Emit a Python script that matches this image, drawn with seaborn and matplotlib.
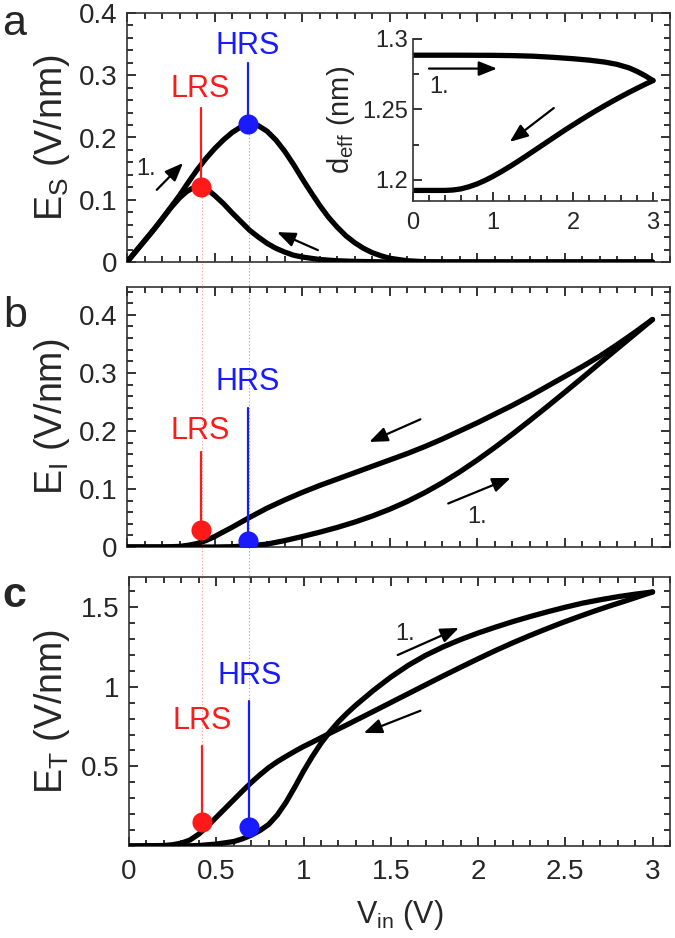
import numpy as np
import pandas as pd
import matplotlib
matplotlib.use("Agg")
import matplotlib.pyplot as plt
import matplotlib.transforms as mtransforms
from matplotlib.ticker import MultipleLocator, FixedLocator, FuncFormatter
import seaborn as sns

# ---------------- data ----------------
# Panel a: E_S (forward sweep "1." and return sweep)
es_fwd_v = [0, 0.05, 0.1, 0.15, 0.2, 0.25, 0.3, 0.35, 0.4, 0.45, 0.5, 0.55, 0.6, 0.65, 0.7,
            0.75, 0.8, 0.85, 0.9, 0.95, 1.0, 1.05, 1.1, 1.15, 1.2, 1.25, 1.3, 1.35, 1.4,
            1.45, 1.5, 1.6, 1.7, 1.8, 3.0]
es_fwd_e = [0, 0.017, 0.034, 0.051, 0.069, 0.088, 0.107, 0.128, 0.148, 0.166, 0.182, 0.196,
            0.208, 0.217, 0.222, 0.219, 0.210, 0.196, 0.178, 0.157, 0.134, 0.112, 0.091,
            0.072, 0.056, 0.042, 0.031, 0.022, 0.015, 0.010, 0.006, 0.002, 0.0005, 0, 0]
es_ret_v = [3.0, 2.0, 1.5, 1.3, 1.2, 1.1, 1.0, 0.95, 0.9, 0.85, 0.8, 0.75, 0.7, 0.65, 0.6,
            0.55, 0.5, 0.47, 0.44, 0.42, 0.40, 0.37, 0.34, 0.3, 0.25, 0.2, 0.15, 0.1, 0.05, 0]
es_ret_e = [0, 0, 0, 0.001, 0.002, 0.004, 0.008, 0.011, 0.016, 0.022, 0.030, 0.040, 0.051,
            0.065, 0.079, 0.094, 0.107, 0.114, 0.119, 0.121, 0.121, 0.118, 0.113, 0.103,
            0.087, 0.069, 0.051, 0.034, 0.017, 0]

# Inset: d_eff
d_fwd_v = [0, 0.5, 1.0, 1.25, 1.5, 1.75, 2.0, 2.2, 2.4, 2.55, 2.7, 2.8, 2.9, 2.95, 3.0]
d_fwd_d = [1.2885, 1.2885, 1.2884, 1.2882, 1.2878, 1.2870, 1.2860, 1.2850, 1.2836, 1.2820,
           1.2795, 1.2770, 1.2740, 1.2722, 1.2705]
d_ret_v = [3.0, 2.9, 2.8, 2.7, 2.6, 2.5, 2.4, 2.3, 2.2, 2.1, 2.0, 1.9, 1.8, 1.7, 1.6, 1.5,
           1.4, 1.3, 1.2, 1.1, 1.0, 0.9, 0.8, 0.7, 0.6, 0.5, 0.4, 0]
d_ret_d = [1.2705, 1.2678, 1.2650, 1.2621, 1.2591, 1.2560, 1.2528, 1.2495, 1.2461, 1.2426,
           1.2390, 1.2354, 1.2316, 1.2278, 1.2240, 1.2202, 1.2164, 1.2127, 1.2091, 1.2057,
           1.2025, 1.1996, 1.1971, 1.1951, 1.1936, 1.1928, 1.1925, 1.1925]

# Panel b: E_I
ei_fwd_v = [0, 0.5, 0.6, 0.7, 0.8, 0.9, 1.0, 1.1, 1.2, 1.3, 1.4, 1.5, 1.6, 1.7, 1.8, 1.9,
            2.0, 2.1, 2.2, 2.3, 2.4, 2.5, 2.6, 2.7, 2.8, 2.9, 3.0]
ei_fwd_e = [0, 0, 0.0005, 0.002, 0.005, 0.011, 0.018, 0.0255, 0.0337, 0.0429, 0.0533,
            0.0651, 0.0785, 0.0937, 0.1107, 0.1295, 0.1499, 0.1716, 0.1944, 0.218, 0.2422,
            0.2668, 0.2917, 0.317, 0.342, 0.367, 0.392]
ei_ret_v = [3.0, 2.9, 2.8, 2.7, 2.6, 2.5, 2.4, 2.3, 2.2, 2.1, 2.0, 1.9, 1.8, 1.7, 1.6, 1.5,
            1.4, 1.3, 1.2, 1.1, 1.0, 0.9, 0.8, 0.7, 0.6, 0.5, 0.45, 0.4, 0.35, 0.3, 0.2, 0]
ei_ret_e = [0.392, 0.370, 0.349, 0.329, 0.311, 0.294, 0.277, 0.260, 0.244, 0.229, 0.214,
            0.200, 0.186, 0.173, 0.161, 0.150, 0.139, 0.128, 0.117, 0.106, 0.094, 0.081,
            0.067, 0.051, 0.034, 0.018, 0.011, 0.006, 0.003, 0.001, 0, 0]

# Panel c: E_T
et_fwd_v = [0, 0.3, 0.4, 0.5, 0.6, 0.65, 0.7, 0.75, 0.8, 0.85, 0.9, 0.95, 1.0, 1.05, 1.1,
            1.15, 1.2, 1.25, 1.3, 1.4, 1.5, 1.6, 1.7, 1.8, 1.9, 2.0, 2.1, 2.2, 2.3, 2.4,
            2.5, 2.6, 2.7, 2.8, 2.9, 3.0]
et_fwd_e = [0, 0, 0.003, 0.012, 0.028, 0.045, 0.068, 0.097, 0.135, 0.195, 0.275, 0.370,
            0.470, 0.562, 0.645, 0.717, 0.780, 0.835, 0.885, 0.977, 1.061, 1.135, 1.198,
            1.251, 1.297, 1.338, 1.375, 1.410, 1.442, 1.472, 1.500, 1.526, 1.547, 1.566,
            1.582, 1.596]
et_ret_v = [3.0, 2.86, 2.76, 2.67, 2.57, 2.48, 2.38, 2.29, 2.2, 2.1, 2.0, 1.91, 1.81, 1.72,
            1.62, 1.53, 1.43, 1.34, 1.3, 1.25, 1.2, 1.15, 1.1, 1.05, 1.0, 0.95, 0.9, 0.85,
            0.8, 0.75, 0.7, 0.65, 0.6, 0.55, 0.5, 0.45, 0.4, 0.35, 0.3, 0.25, 0.2, 0]
et_ret_e = [1.596, 1.545, 1.510, 1.477, 1.438, 1.402, 1.359, 1.319, 1.277, 1.228, 1.176,
            1.128, 1.074, 1.024, 0.968, 0.918, 0.862, 0.812, 0.790, 0.762, 0.735, 0.708,
            0.680, 0.652, 0.625, 0.595, 0.563, 0.530, 0.492, 0.447, 0.398, 0.345, 0.290,
            0.235, 0.180, 0.125, 0.075, 0.038, 0.018, 0.008, 0.003, 0]

# LRS / HRS markers (one value per panel a, b, c)
lrs_v = 0.42
hrs_v = 0.69
lrs_dot = [0.121, 0.029, 0.15]
hrs_dot = [0.222, 0.011, 0.12]
lrs_top = [0.247, 0.163, 0.63]
hrs_top = [0.320, 0.240, 0.91]
lrs_txt = [0.278, 0.200, 0.785]
hrs_txt = [0.347, 0.285, 1.065]

# ---------------- style ----------------
sns.set_theme(style="ticks")
SPINE = "#333333"
plt.rcParams.update({
    "font.family": ["Liberation Sans", "DejaVu Sans"],
    "mathtext.fontset": "custom",
    "mathtext.rm": "Liberation Sans",
    "mathtext.it": "Liberation Sans",
    "mathtext.default": "regular",
    "axes.edgecolor": SPINE,
    "axes.linewidth": 1.2,
})

RED = "#ff1a1a"
BLUE = "#1a1aff"
LW = 3.8
TW = 1.4

fig = plt.figure(figsize=(6.75, 9.38), dpi=100)
W, H = 675.0, 938.0

def box(l, t, r, b):
    return [l / W, 1 - b / H, (r - l) / W, (b - t) / H]

ax_a = fig.add_axes(box(127, 13, 670, 262))
ax_b = fig.add_axes(box(127, 287, 670, 547))
ax_c = fig.add_axes(box(129, 577, 670, 846))
ax_in = fig.add_axes(box(413, 39, 657, 201))

gfmt = FuncFormatter(lambda x, p: f"{x:g}")

def curve(ax, v, e):
    sns.lineplot(x=v, y=e, ax=ax, sort=False, estimator=None, color="black",
                 linewidth=LW, zorder=3)

curve(ax_a, es_fwd_v, es_fwd_e)
curve(ax_a, es_ret_v, es_ret_e)
curve(ax_b, ei_fwd_v, ei_fwd_e)
curve(ax_b, ei_ret_v, ei_ret_e)
curve(ax_c, et_fwd_v, et_fwd_e)
curve(ax_c, et_ret_v, et_ret_e)

for ax in (ax_a, ax_b, ax_c):
    ax.set_xlim(0, 3.1)
    ax.xaxis.set_major_locator(MultipleLocator(0.5))
    ax.xaxis.set_minor_locator(MultipleLocator(0.1))
    ax.xaxis.set_major_formatter(gfmt)
    ax.yaxis.set_major_formatter(gfmt)

ax_a.set_ylim(0, 0.4)
ax_a.yaxis.set_major_locator(MultipleLocator(0.1))
ax_a.yaxis.set_minor_locator(MultipleLocator(0.02))
ax_b.set_ylim(0, 0.448)
ax_b.yaxis.set_major_locator(MultipleLocator(0.1))
ax_b.yaxis.set_minor_locator(MultipleLocator(0.02))
ax_c.set_ylim(0, 1.69)
ax_c.yaxis.set_major_locator(FixedLocator([0.5, 1.0, 1.5]))
ax_c.yaxis.set_minor_locator(MultipleLocator(0.1))

for ax in (ax_a, ax_b, ax_c):
    ax.tick_params(which="both", direction="in", top=True, right=True, bottom=True,
                   left=True, labelsize=20, color=SPINE, width=TW)
    ax.tick_params(which="major", length=6.5)
    ax.tick_params(which="minor", length=4)
    ax.tick_params(axis="x", which="major", pad=9)
    ax.tick_params(axis="y", which="major", pad=7)
ax_a.tick_params(labelbottom=False)
ax_b.tick_params(labelbottom=False)

YL_FS = 27
ax_a.set_ylabel("E$_{S}$ (V/nm)", fontsize=YL_FS)
ax_b.set_ylabel("E$_{I}$ (V/nm)", fontsize=YL_FS)
ax_c.set_ylabel("E$_{T}$ (V/nm)", fontsize=YL_FS)
ax_a.yaxis.set_label_coords(-0.102, 0.5)
ax_b.yaxis.set_label_coords(-0.102, 0.5)
ax_c.yaxis.set_label_coords(-0.105, 0.5)
ax_c.set_xlabel("V$_{in}$ (V)", fontsize=22, labelpad=10)

# ---------------- LRS/HRS markers ----------------
for i, ax in enumerate((ax_a, ax_b, ax_c)):
    ax.plot([lrs_v, lrs_v], [lrs_dot[i], lrs_top[i]], color=RED, lw=1.6, zorder=4)
    ax.plot([hrs_v, hrs_v], [hrs_dot[i], hrs_top[i]], color=BLUE, lw=1.6, zorder=4)
    sns.scatterplot(x=[lrs_v], y=[lrs_dot[i]], ax=ax, color=RED, s=210, linewidth=0, zorder=5)
    sns.scatterplot(x=[hrs_v], y=[hrs_dot[i]], ax=ax, color=BLUE, s=210, linewidth=0, zorder=5)
    ax.text(lrs_v, lrs_txt[i], "LRS", color=RED, fontsize=22, ha="center", va="center")
    ax.text(hrs_v, hrs_txt[i], "HRS", color=BLUE, fontsize=22, ha="center", va="center")

# dotted guide lines from panel a dots to panel c marker tops
def fig_y(ax, v, e):
    return fig.transFigure.inverted().transform(ax.transData.transform((v, e)))[1]

trans = mtransforms.blended_transform_factory(ax_c.transData, fig.transFigure)
for v, dot_a, top_c, col in ((lrs_v, lrs_dot[0], lrs_top[2], RED),
                             (hrs_v, hrs_dot[0], hrs_top[2], BLUE)):
    y0 = fig_y(ax_a, v, dot_a)
    y1 = fig_y(ax_c, v, top_c)
    ax_c.plot([v, v], [y0, y1], transform=trans, clip_on=False, ls=(0, (1.2, 1.8)),
              lw=0.8, color=col, alpha=0.4, zorder=1)

# ---------------- arrows ----------------
def arrow(ax, tail, head):
    ax.annotate("", xy=head, xytext=tail,
                arrowprops=dict(arrowstyle="-|>,head_length=0.55,head_width=0.22",
                                color="black", lw=1.6, shrinkA=0, shrinkB=0,
                                mutation_scale=20), zorder=6)

NUM_FS = 17
arrow(ax_a, (0.17, 0.116), (0.32, 0.159))
ax_a.text(0.11, 0.150, "1.", fontsize=NUM_FS, ha="center", va="center")
arrow(ax_a, (1.09, 0.019), (0.857, 0.048))
arrow(ax_b, (1.675, 0.220), (1.383, 0.181))
arrow(ax_b, (1.834, 0.075), (2.19, 0.119))
ax_b.text(2.0, 0.051, "1.", fontsize=NUM_FS, ha="center", va="center")
arrow(ax_c, (1.54, 1.20), (1.89, 1.37))
ax_c.text(1.58, 1.33, "1.", fontsize=NUM_FS, ha="center", va="center")
arrow(ax_c, (1.67, 0.85), (1.345, 0.71))

# ---------------- inset ----------------
ax_in.set_facecolor("white")
for s in ("top", "right"):
    ax_in.spines[s].set_visible(False)
sns.lineplot(x=d_fwd_v, y=d_fwd_d, ax=ax_in, sort=False, estimator=None, color="black",
             linewidth=LW)
sns.lineplot(x=d_ret_v, y=d_ret_d, ax=ax_in, sort=False, estimator=None, color="black",
             linewidth=LW)
ax_in.set_xlim(0, 3.05)
ax_in.set_ylim(1.185, 1.3)
ax_in.xaxis.set_major_locator(MultipleLocator(1))
ax_in.xaxis.set_minor_locator(MultipleLocator(0.2))
ax_in.yaxis.set_major_locator(MultipleLocator(0.05))
ax_in.yaxis.set_minor_locator(MultipleLocator(0.025))
ax_in.xaxis.set_major_formatter(gfmt)
ax_in.yaxis.set_major_formatter(gfmt)
ax_in.tick_params(which="both", direction="in", top=False, right=False, bottom=True,
                  left=True, labelsize=17, color=SPINE, width=TW)
ax_in.tick_params(which="major", length=6.5)
ax_in.tick_params(which="minor", length=4)
ax_in.tick_params(axis="x", which="major", pad=8)
ax_in.set_ylabel("d$_{eff}$ (nm)", fontsize=21, labelpad=4)
arrow(ax_in, (0.2, 1.279), (1.05, 1.279))
ax_in.text(0.33, 1.266, "1.", fontsize=NUM_FS, ha="center", va="center")
arrow(ax_in, (1.76, 1.251), (1.21, 1.227))

# ---------------- panel letters ----------------
fig.text(2 / W, 1 - 35 / H, "a", fontsize=31, va="baseline", ha="left")
fig.text(3 / W, 1 - 327 / H, "b", fontsize=31, va="baseline", ha="left")
fig.text(2 / W, 1 - 607 / H, "c", fontsize=31, va="baseline", ha="left", fontweight="bold")

fig.savefig("out.png", dpi=100, facecolor="white")
